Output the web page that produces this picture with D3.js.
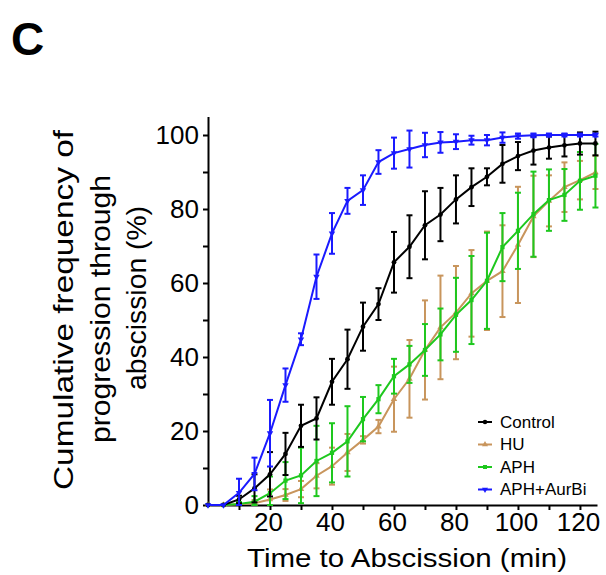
<!DOCTYPE html>
<html><head><meta charset="utf-8">
<script src="https://cdn.jsdelivr.net/npm/d3@7"></script>
<style>body{margin:0;background:#fff}svg{display:block;font-family:"Liberation Sans",Arial,sans-serif}</style>
</head><body><svg id="c" width="606" height="575"></svg>
<script>
const times=[0,5,10,15,20,25,30,35,40,45,50,55,60,65,70,75,80,85,90,95,100,105,110,115,120,125];
const control=[0,0,1.5,4.5,8.3,13.8,21.4,23.4,33.3,39.4,48.2,54.3,65.6,69.8,75.6,78.5,82.6,85.9,88.7,92.2,94.3,95.8,96.6,97.2,97.7,97.7];
const controlErr=[0,0,1,3.8,6,5.7,5.7,5.7,6.2,8,6.5,4.3,8.2,8.5,9.2,7.2,6.5,5.1,2.3,5.1,3.8,3.8,3,3,3,3.2];
const hu=[0,0,0.2,0.5,1.5,2.7,4.3,7.9,10.5,14.2,17.6,21.2,28.6,34.1,41.9,48,52,57.2,60.6,63.2,70.3,78,82.2,85.9,87.8,89.9];
const huErr=[0,0,0.3,0.8,2.7,1.6,2.2,3.4,5,5,1,1.8,8.8,10.5,13.4,14,12.6,11.7,13.3,12.4,15.7,11,6.9,6.7,5.2,4.5];
const aph=[0,0,0.3,0.9,3.2,6.6,8,11.9,14.1,17.2,23.2,28.6,34.8,38,41.9,46.1,51.4,55.4,60.6,69.7,74.1,78.6,82.4,83.8,87.6,89];
const aphErr=[0,0,0.5,1.5,4.5,5,7.5,9.5,8,9.5,6,3.8,4.7,5,7,7,10,11.9,13,9.2,10.3,11.5,8.3,7,7.8,8.6];
const aurbi=[0,0,3.3,8.4,19.4,32.4,44.8,61.7,73.4,82.2,85.1,92.7,95.1,96.2,97.3,98,98.2,98.6,98.6,99.3,99.7,99.9,100,100,100,100];
const aurbiErr=[0,0,3.8,4.4,9,4.5,1.6,6,5.5,3.5,4,3.2,4.2,5,3.3,2.8,2,1.2,1.4,1.4,0.7,0.5,0.4,0.4,0.4,0.4];
const seriesNames=["Control","HU","APH","APH+AurBi"];
const seriesColors=["#000000","#c8955c","#1ec81e","#1a1aff"];
const seriesMarkers=["circle","triangle","square","triangle"];
const xTickValues=[10,20,30,40,50,60,70,80,90,100,110,120];
const xTickLabels=[20,40,60,80,100,120];
const yTickValues=[0,10,20,30,40,50,60,70,80,90,100];
const yTickLabels=[0,20,40,60,80,100];

const svgEl=d3.select("#c");
const x=d3.scaleLinear().domain([0,125.5]).range([208,597]);
const y=d3.scaleLinear().domain([0,105]).range([505,116.5]);

svgEl.append("text").attr("x",11).attr("y",55).attr("font-size",46).attr("font-weight","bold").text("C");

// axes
const xAxis=d3.axisBottom(x).tickValues(xTickValues).tickSize(5).tickSizeOuter(0)
  .tickFormat(d=>xTickLabels.includes(d)?d:"");
const gx=svgEl.append("g").attr("transform","translate(0,505)").call(xAxis);
gx.select(".domain").attr("stroke-width",2);
gx.selectAll(".tick line").attr("stroke-width",2);
gx.selectAll("text").attr("font-size",26).attr("font-family","Liberation Sans, Arial, sans-serif").attr("fill","#000").attr("dy","0.85em").attr("y",4).attr("dx",-2);

const yAxis=d3.axisLeft(y).tickValues(yTickValues).tickSize(5).tickSizeOuter(0)
  .tickFormat(d=>yTickLabels.includes(d)?d:"");
const gy=svgEl.append("g").attr("transform","translate(208,0)").call(yAxis);
gy.select(".domain").attr("stroke-width",2);
gy.selectAll(".tick line").attr("stroke-width",2);
gy.selectAll("text").attr("font-size",26).attr("font-family","Liberation Sans, Arial, sans-serif").attr("fill","#000").attr("x",-9);

// titles
svgEl.append("text").attr("x",407).attr("y",567).attr("text-anchor","middle").attr("font-size",26)
  .attr("textLength",320).attr("lengthAdjust","spacingAndGlyphs").text("Time to Abscission (min)");
const yTitle=["Cumulative frequency of","progression through","abscission (%)"];
const yTitleLen=[360,268,184];
const yTitleMid=[310,309,298];
yTitle.forEach((t,i)=>{
  svgEl.append("text").attr("transform",`translate(${73+i*36.5},${yTitleMid[i]}) rotate(-90)`).attr("text-anchor","middle").attr("font-size",28)
    .attr("textLength",yTitleLen[i]).attr("lengthAdjust","spacingAndGlyphs").text(t);
});

const data=[[control,controlErr],[hu,huErr],[aph,aphErr],[aurbi,aurbiErr]];
const symTypes={circle:d3.symbolCircle,triangle:d3.symbolTriangle,square:d3.symbolSquare};
const drawOrder=[1,2,0,3];
drawOrder.forEach(si=>{
  const [vals,errs]=data[si];
  const col=seriesColors[si];
  const g=svgEl.append("g");
  const pts=times.map((t,i)=>({t,v:vals[i],e:errs[i]}));
  pts.forEach(p=>{
    if(p.e<=0.2) return;
    const lo=Math.max(0,p.v-p.e), hi=p.v+p.e;
    g.append("line").attr("x1",x(p.t)).attr("x2",x(p.t)).attr("y1",y(lo)).attr("y2",y(hi)).attr("stroke",col).attr("stroke-width",2);
    [lo,hi].forEach(c=>g.append("line").attr("x1",x(p.t)-3).attr("x2",x(p.t)+3).attr("y1",y(c)).attr("y2",y(c)).attr("stroke",col).attr("stroke-width",2));
  });
  g.append("path").datum(pts).attr("fill","none").attr("stroke",col).attr("stroke-width",2)
    .attr("d",d3.line().x(d=>x(d.t)).y(d=>y(d.v)));
  g.selectAll("path.m").data(pts).join("path").attr("class","m")
    .attr("transform",d=>`translate(${x(d.t)},${y(d.v)})${si===3?" rotate(180)":""}`)
    .attr("d",d3.symbol().type(symTypes[seriesMarkers[si]]).size(18)).attr("fill",col);
});

// legend
const lg=svgEl.append("g");
seriesNames.forEach((n,i)=>{
  const yy=422+i*22.5;
  lg.append("line").attr("x1",478).attr("x2",492).attr("y1",yy).attr("y2",yy).attr("stroke",seriesColors[i]).attr("stroke-width",2);
  lg.append("path").attr("transform",`translate(485,${yy})${i===3?" rotate(180)":""}`)
    .attr("d",d3.symbol().type(symTypes[seriesMarkers[i]]).size(16)).attr("fill",seriesColors[i]);
  lg.append("text").attr("x",500).attr("y",yy).attr("dy","0.35em").attr("font-size",17).text(n);
});
</script></body></html>
